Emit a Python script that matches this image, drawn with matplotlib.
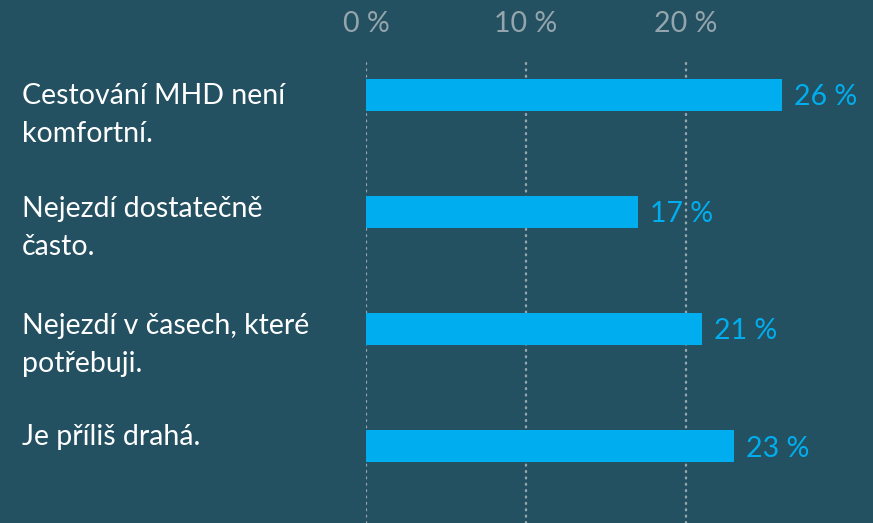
import matplotlib.pyplot as plt
import numpy as np

plt.rcParams['font.family'] = ['Lato', 'DejaVu Sans']

labels = [['Cestování MHD není', 'komfortní.'],
          ['Nejezdí dostatečně', 'často.'],
          ['Nejezdí v časech, které', 'potřebuji.'],
          ['Je příliš drahá.']]
values = [26, 17, 21, 23]
ticks = [0, 10, 20]

bg = '#245161'
bar_col = '#00aeef'
grid_col = '#95a5ad'

fig = plt.figure(figsize=(8.73, 5.23), dpi=100)
fig.patch.set_facecolor(bg)
ax = fig.add_axes([366 / 873, 0, 507 / 873, 465 / 523])
ax.set_facecolor(bg)

y = np.arange(len(values))
ax.barh(y, values, height=0.27, color=bar_col, zorder=3)

ax.set_xlim(0, 507 / 16)
ax.set_ylim(3.658, -0.316)

for v in ticks:
    ax.axvline(v, color=grid_col, lw=1.7, ls=(0, (0.4, 2.3)),
               dash_capstyle='round', zorder=1)

ax.xaxis.tick_top()
ax.set_xticks(ticks)
ax.set_xticklabels([f'{t} %' for t in ticks], fontsize=20.5, color=grid_col)
ax.tick_params(axis='x', length=0, pad=15)
ax.set_yticks([])
for s in ax.spines.values():
    s.set_visible(False)

for i, v in enumerate(values):
    ax.text(v + 0.75, i, f'{v} %', fontsize=20.5, color=bar_col,
            va='center_baseline', ha='left', zorder=4)

# category labels, line by line (pixel offsets from bar centre)
first_off = [9, 5, 5, -1]
inv = fig.transFigure.inverted()
for i, lines in enumerate(labels):
    yd = ax.transData.transform((0, i))[1]
    for k, line in enumerate(lines):
        yf = inv.transform((0, yd - first_off[i] - 38 * k))[1]
        fig.text(22 / 873, yf, line, fontsize=20.5, color='white',
                 ha='left', va='baseline')

fig.savefig('out.png', dpi=100, facecolor=bg)
